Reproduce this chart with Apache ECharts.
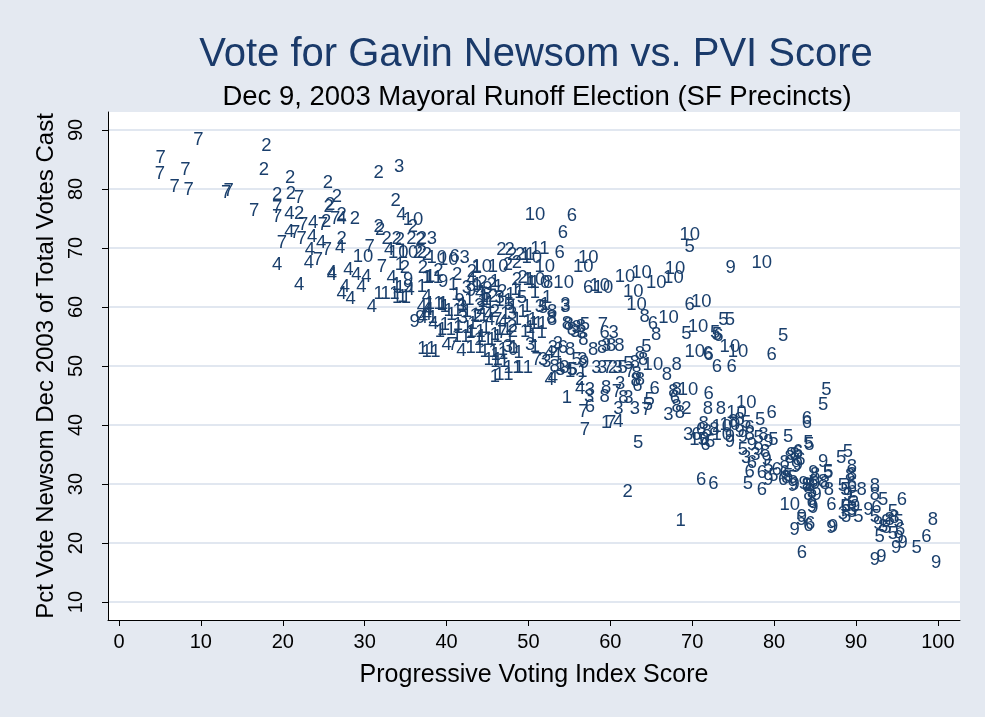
<!DOCTYPE html>
<html>
<head>
<meta charset="utf-8">
<script src="https://cdn.jsdelivr.net/npm/echarts@6/dist/echarts.min.js"></script>
<style>
  html, body { margin: 0; padding: 0; background: #e4e9f1; }
  #chart { width: 985px; height: 717px; }
</style>
</head>
<body>
<div id="chart"></div>
<script>
// precinct points [PVI score, pct Newsom], grouped by supervisorial district
const d1 = [[39.2,55.8],[45.9,48.2],[54.7,44.6],[31.7,62.3],[37.0,63.4],[38.0,65.1],[39.6,60.6],[34.3,67.1],[37.6,64.9],[33.9,63.7],[34.3,63.2],[43.7,66.6],[40.8,63.7],[43.7,63.7],[44.6,61.7],[45.9,64.2],[34.6,61.7],[39.4,60.3],[39.8,60.0],[42.0,60.3],[38.3,58.1],[39.8,57.0],[42.5,59.2],[41.4,57.0],[44.4,60.8],[45.3,60.7],[46.5,56.1],[45.9,55.3],[49.6,68.8],[50.2,68.8],[50.4,64.0],[49.9,64.6],[46.3,63.4],[48.4,62.9],[48.9,62.4],[50.8,62.4],[52.3,61.5],[52.0,60.3],[49.8,60.0],[49.3,59.2],[48.1,59.8],[44.9,61.2],[48.6,57.8],[49.9,57.5],[50.5,57.8],[44.3,54.9],[45.5,54.4],[46.2,54.9],[47.4,56.1],[47.7,54.9],[49.6,55.8],[50.2,56.4],[50.5,54.9],[50.8,53.2],[53.9,50.1],[55.1,49.0],[56.6,49.0],[68.6,23.7],[59.5,40.3],[51.2,57.2],[46.9,52.0],[48.2,53.0],[41.2,62.0],[42.8,61.2],[43.2,57.2],[44.8,56.5],[47.2,58.9],[48.8,52.2],[46.0,51.8],[40.6,58.6],[42.9,55.6],[47.8,62.0],[51.6,55.6]];
const d2 = [[18.0,87.3],[17.7,83.3],[20.9,81.9],[25.5,81.0],[19.3,79.0],[21.0,79.2],[25.6,77.0],[25.8,77.3],[26.6,78.7],[22.0,75.7],[25.3,74.5],[31.7,82.8],[33.8,77.9],[28.8,75.0],[27.2,75.6],[35.9,73.5],[31.7,73.5],[31.9,73.1],[32.7,71.6],[33.9,71.6],[35.7,71.5],[37.0,71.5],[27.2,71.6],[37.0,69.1],[34.3,71.4],[36.8,71.4],[36.5,69.2],[37.6,68.8],[37.1,66.6],[34.9,66.6],[41.3,65.4],[43.1,65.9],[44.4,64.0],[45.5,63.7],[43.8,58.3],[45.9,59.2],[48.0,68.8],[49.0,68.8],[47.5,67.1],[48.6,67.4],[46.7,69.7],[47.7,69.7],[49.3,64.9],[48.6,64.6],[45.7,61.7],[48.0,56.6],[48.1,55.8],[56.3,47.6],[60.3,49.6],[62.1,28.6],[69.3,42.8],[46.8,62.6],[44.2,59.6],[39.0,66.2]];
const d3 = [[34.2,83.8],[38.2,71.5],[42.2,68.3],[42.5,63.2],[41.9,60.0],[42.0,58.1],[47.5,53.2],[51.8,51.0],[53.9,49.3],[57.5,45.9],[54.5,60.3],[51.4,60.0],[54.5,60.0],[55.9,56.4],[55.7,55.8],[56.5,55.6],[60.4,55.6],[53.6,53.8],[56.6,51.0],[52.2,50.7],[54.4,49.7],[59.5,53.4],[58.3,49.6],[59.0,49.6],[60.9,49.6],[61.0,42.8],[63.0,42.8],[62.2,44.6],[67.1,41.7],[69.5,38.3],[50.2,53.6],[53.0,53.0],[76.6,34.4],[77.7,34.9],[88.4,25.0],[57.4,44.8],[61.2,47.0],[46.5,61.5],[48.0,58.8],[44.0,60.2]];
const d4 = [[20.8,75.7],[20.8,72.7],[23.7,74.2],[23.6,71.9],[24.7,70.8],[23.3,69.7],[19.3,67.2],[23.2,67.4],[22.0,63.8],[26.0,65.7],[27.2,75.0],[34.5,75.6],[27.0,70.0],[33.0,69.7],[28.0,66.3],[29.0,65.4],[30.2,65.1],[27.6,63.4],[29.6,63.4],[27.2,62.3],[28.3,61.3],[30.9,60.1],[33.3,64.9],[35.5,62.9],[37.6,61.7],[37.0,60.0],[37.6,59.5],[37.1,58.1],[37.6,58.6],[37.8,59.5],[40.0,53.6],[41.8,52.5],[44.1,62.4],[45.1,58.6],[45.3,57.8],[46.9,57.5],[52.6,52.3],[53.0,47.9],[52.6,47.6],[53.4,51.9],[56.3,46.2],[61.0,40.6],[26.0,65.4],[38.4,57.2],[43.0,64.6]];
const d5 = [[55.3,49.3],[56.9,57.0],[51.8,59.9],[55.4,49.3],[55.9,51.0],[61.5,49.6],[62.2,50.4],[64.4,53.3],[64.8,44.2],[64.6,43.4],[63.4,36.9],[69.7,70.2],[69.3,55.5],[72.8,55.6],[73.0,55.3],[73.8,57.8],[74.6,57.8],[81.1,55.1],[86.4,45.9],[86.0,43.4],[72.2,37.2],[71.3,37.5],[78.3,40.8],[76.6,40.3],[78.1,37.8],[79.9,37.5],[76.2,35.8],[79.3,32.9],[84.2,36.9],[76.8,30.1],[79.9,31.3],[81.7,31.3],[86.6,32.1],[88.2,34.4],[89.0,35.5],[88.4,29.6],[89.7,27.6],[89.5,25.6],[81.7,38.0],[84.3,36.6],[82.3,31.0],[84.6,28.7],[86.6,31.8],[88.7,29.0],[88.7,26.1],[89.5,26.7],[89.5,25.3],[90.3,24.5],[88.8,24.5],[93.3,27.3],[92.3,24.5],[92.9,21.1],[94.5,25.3],[95.2,23.6],[94.5,21.6],[93.7,22.5],[97.4,19.2],[83.3,23.9],[44.8,62.0],[47.6,60.4],[49.2,61.6]];
const d6 = [[55.3,75.5],[54.2,72.5],[53.8,69.1],[57.3,63.2],[41.0,68.5],[59.3,55.6],[54.2,53.0],[65.4,46.2],[63.3,46.7],[57.5,43.1],[67.9,44.6],[72.0,45.2],[65.2,57.2],[69.7,60.3],[73.2,55.1],[71.9,52.0],[73.0,49.9],[74.8,49.9],[72.0,51.9],[79.7,51.9],[79.7,42.0],[84.0,41.1],[84.0,40.4],[77.0,39.5],[71.1,39.2],[71.6,36.6],[70.5,38.3],[77.3,33.5],[82.9,35.5],[83.2,34.1],[77.0,32.1],[78.5,31.8],[78.5,29.0],[80.3,32.4],[81.1,30.7],[87.0,26.4],[71.1,30.7],[72.6,30.1],[89.5,29.3],[88.8,26.2],[84.4,23.3],[84.2,22.9],[82.9,35.2],[81.3,31.8],[84.8,30.4],[89.5,30.1],[92.5,25.9],[95.6,27.3],[95.4,22.2],[98.6,21.1],[83.4,18.3]];
const d7 = [[9.7,88.3],[5.1,85.2],[5.0,82.5],[8.1,83.3],[6.8,80.3],[8.5,79.8],[13.1,79.3],[13.4,79.6],[16.5,76.3],[22.0,78.5],[19.3,76.8],[19.3,75.3],[21.5,72.5],[22.5,73.9],[22.3,71.6],[24.9,73.9],[26.4,74.9],[19.9,70.8],[25.4,69.7],[24.3,68.0],[30.6,70.2],[32.1,66.8],[40.8,53.6],[51.0,51.0],[59.1,57.0],[62.4,49.0],[56.7,42.3],[56.9,39.2],[60.1,40.3],[60.8,45.6],[64.4,42.5],[59.7,49.6],[46.8,55.6],[46.2,57.8]];
const d8 = [[52.4,64.0],[52.8,58.1],[52.9,59.2],[52.9,57.8],[54.7,57.2],[56.4,56.7],[54.9,57.0],[56.7,54.4],[57.9,52.7],[59.0,53.0],[60.1,53.4],[61.1,53.4],[55.1,52.7],[53.2,49.9],[59.5,46.3],[59.3,44.8],[61.6,44.6],[63.0,50.5],[63.6,52.1],[64.0,51.0],[63.2,48.6],[63.6,47.7],[63.1,47.4],[66.9,48.5],[68.1,50.2],[67.7,45.6],[68.1,43.1],[68.5,42.0],[71.9,42.8],[73.5,42.8],[71.4,40.2],[71.8,38.9],[64.2,58.4],[65.6,55.3],[75.0,40.6],[75.8,40.8],[72.7,39.2],[77.0,38.3],[78.7,38.3],[78.9,35.5],[82.5,34.9],[81.9,34.4],[81.3,33.5],[84.4,29.6],[85.0,31.5],[86.0,30.4],[84.2,28.1],[89.5,32.9],[89.3,31.3],[81.5,31.0],[84.0,29.6],[84.6,27.3],[86.2,30.1],[86.7,29.0],[89.5,31.5],[90.7,29.0],[92.3,29.6],[92.3,28.1],[94.1,23.9],[94.7,24.2],[93.3,22.8],[99.4,23.9],[55.3,56.1],[68.1,45.9]];
const d9 = [[74.7,66.7],[36.8,58.1],[35.3,64.6],[39.6,64.2],[35.3,63.4],[43.7,63.4],[36.1,57.5],[56.8,50.5],[74.6,38.0],[75.8,38.9],[74.6,37.2],[76.2,38.0],[77.3,36.6],[79.3,37.2],[78.1,35.8],[79.1,34.1],[79.3,30.7],[82.5,29.8],[82.7,32.9],[84.0,29.8],[85.0,30.1],[86.0,33.8],[85.2,28.1],[84.6,26.1],[83.4,24.5],[87.2,22.8],[82.1,34.9],[82.9,33.2],[82.3,29.6],[84.8,31.8],[83.6,30.1],[84.8,25.9],[82.5,22.2],[87.0,22.5],[89.0,28.1],[89.9,26.1],[91.5,25.6],[92.7,23.3],[93.7,23.6],[95.2,20.8],[95.7,20.0],[94.9,19.1],[92.3,17.1],[93.1,17.7],[99.8,16.7],[43.0,62.8],[45.0,63.0],[41.6,61.0]];
const d10 = [[50.8,75.6],[50.4,68.3],[52.0,66.8],[57.3,68.3],[56.7,66.8],[69.7,72.2],[61.8,65.1],[63.8,65.7],[62.8,62.6],[65.6,64.0],[67.9,66.4],[67.7,64.9],[58.7,63.6],[54.3,64.0],[63.2,60.3],[71.1,60.8],[59.1,63.3],[78.5,67.5],[67.1,58.1],[70.7,56.7],[70.3,52.4],[74.6,53.3],[75.6,52.4],[65.2,50.2],[69.5,45.9],[70.9,37.5],[73.6,38.3],[76.6,43.7],[75.4,42.0],[73.6,39.7],[74.6,40.0],[81.9,26.4],[35.3,69.2],[35.9,74.7],[29.8,68.5],[34.1,69.1],[38.8,68.3],[40.2,68.0],[44.3,66.8],[46.3,66.8],[50.8,64.6],[51.4,64.0],[47.5,52.8]];
const d11 = [[33.1,62.3],[34.5,61.5],[38.4,64.9],[37.6,52.9],[40.0,56.1],[45.7,51.0],[46.5,50.7],[44.5,54.4],[48.1,49.6],[49.4,49.6],[51.4,69.9],[51.2,57.2],[38.1,52.4],[42.0,56.5],[43.5,53.0],[47.0,48.5],[44.0,58.5],[47.0,61.0],[38.5,60.5],[41.8,55.0],[40.8,59.4],[43.6,55.8],[45.2,52.4]];

const districts = [d1, d2, d3, d4, d5, d6, d7, d8, d9, d10, d11];
const xTicks = [0, 10, 20, 30, 40, 50, 60, 70, 80, 90, 100];
const yTicks = [10, 20, 30, 40, 50, 60, 70, 80, 90];

const navy = '#1a3f6c';
const chart = echarts.init(document.getElementById('chart'));

// each precinct is drawn as its district number, no symbol
const series = districts.map((pts, i) => ({
  name: String(i + 1),
  type: 'scatter',
  data: pts,
  symbolSize: 1,
  itemStyle: { color: 'rgba(0,0,0,0)', opacity: 1 },
  label: {
    show: true,
    position: 'inside',
    formatter: String(i + 1),
    color: navy,
    fontSize: 18.5,
    fontFamily: 'Liberation Sans'
  },
  emphasis: { disabled: true },
  silent: true
}));

chart.setOption({
  animation: false,
  backgroundColor: '#e4e9f1',
  textStyle: { fontFamily: 'Liberation Sans' },
  title: [
    {
      text: 'Vote for Gavin Newsom vs. PVI Score',
      left: 531, top: 30, textAlign: 'center',
      textStyle: { fontSize: 40, fontWeight: 'normal', color: '#1a3a6a', fontFamily: 'Liberation Sans' }
    },
    {
      text: 'Dec 9, 2003 Mayoral Runoff Election (SF Precincts)',
      left: 532, top: 78, textAlign: 'center',
      textStyle: { fontSize: 27.5, fontWeight: 'normal', color: '#000', fontFamily: 'Liberation Sans' }
    }
  ],
  grid: {
    left: 108, right: 25, top: 112, bottom: 97,
    show: true, backgroundColor: '#fff', borderWidth: 0
  },
  xAxis: {
    type: 'value',
    min: -1.34, max: 102.7,
    name: 'Progressive Voting Index Score',
    nameLocation: 'middle', nameGap: 43,
    nameTextStyle: { fontSize: 25, color: '#000' },
    axisLine: { onZero: false, lineStyle: { color: '#000', width: 1 } },
    axisTick: { customValues: xTicks, length: 6, lineStyle: { color: '#000' } },
    axisLabel: { customValues: xTicks, fontSize: 20, color: '#000', margin: 12 },
    splitLine: { show: false }
  },
  yAxis: {
    type: 'value',
    min: 6.95, max: 93.05,
    name: 'Pct Vote Newsom Dec 2003 of Total Votes Cast',
    nameLocation: 'middle', nameGap: 50,
    nameTextStyle: { fontSize: 24, color: '#000' },
    axisLine: { show: true, onZero: false, lineStyle: { color: '#000', width: 1 } },
    axisTick: { show: true, customValues: yTicks, length: 6, lineStyle: { color: '#000' } },
    axisLabel: { customValues: yTicks, fontSize: 20, color: '#000', rotate: 90, margin: 22 },
    splitLine: { show: true, lineStyle: { color: '#e1e7f0', width: 2 } }
  },
  series: series
});
</script>
</body>
</html>
